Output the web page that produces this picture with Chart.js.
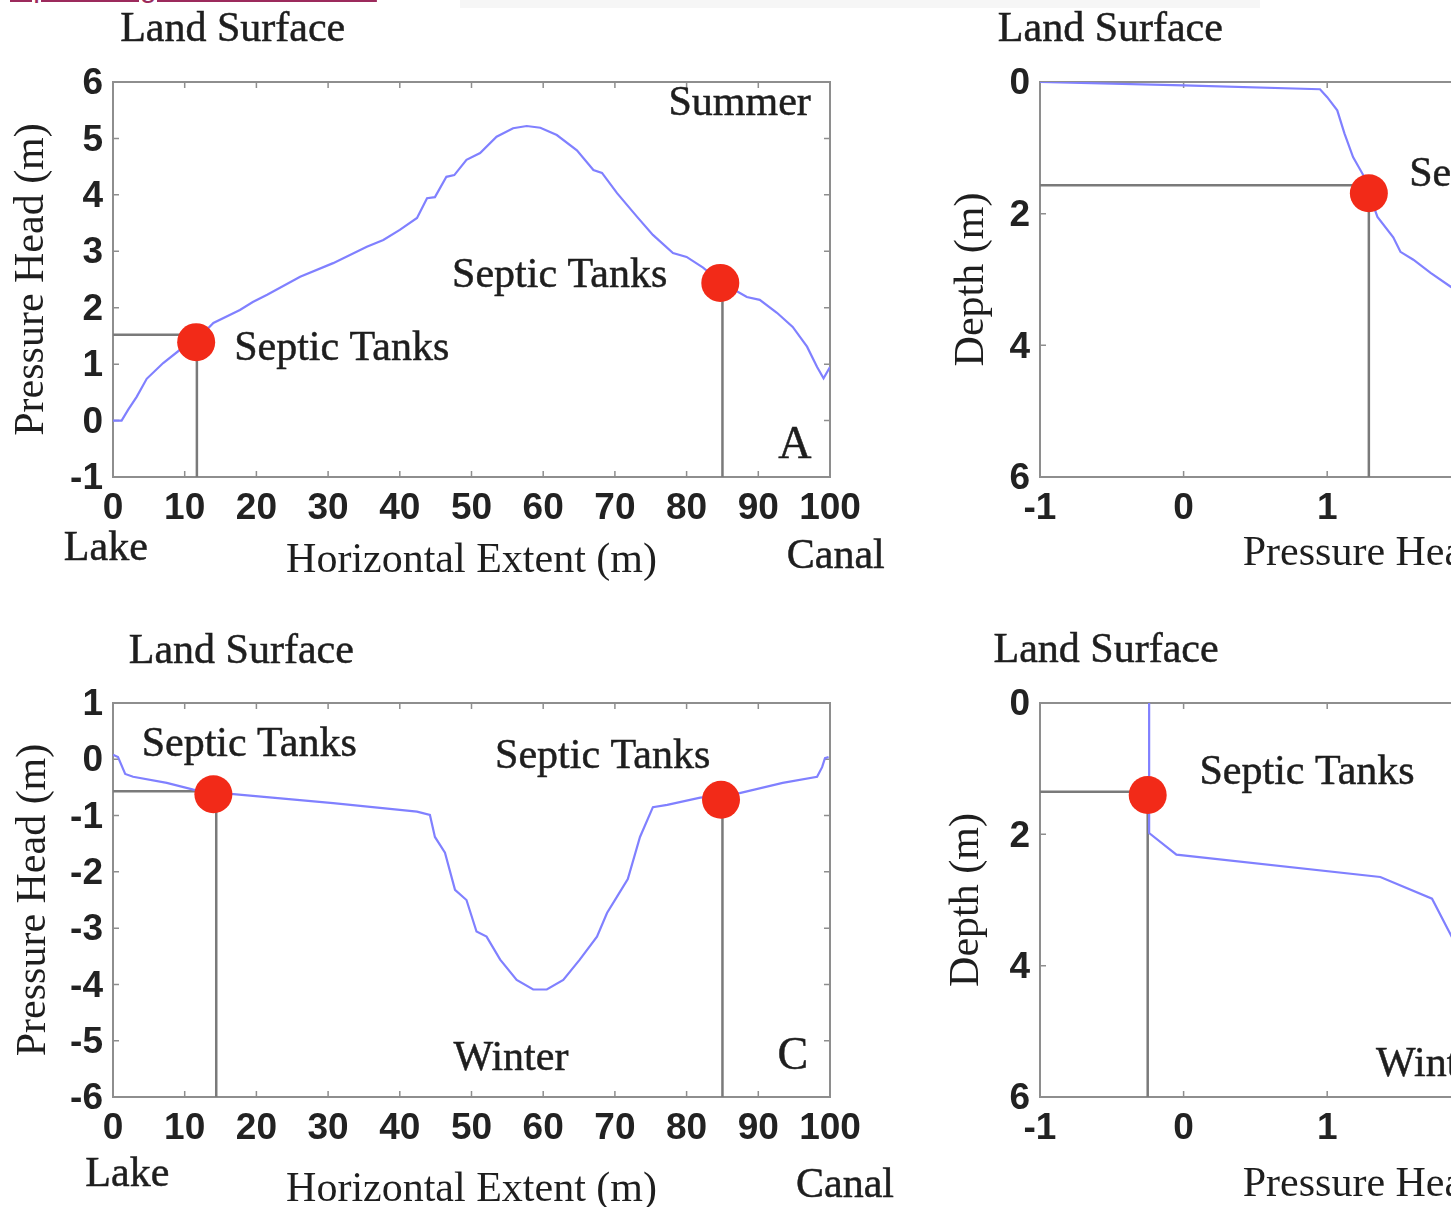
<!DOCTYPE html>
<html>
<head>
<meta charset="utf-8">
<script src="https://cdn.jsdelivr.net/npm/chart.js@4.4.0/dist/chart.umd.min.js"></script>
<style>
html, body { margin: 0; padding: 0; background: #fff; }
#page { position: relative; width: 1451px; height: 1207px; overflow: hidden; background: #fff; }
canvas { position: absolute; }
#link { position: absolute; left: 10px; top: -30px; font: 30px "Liberation Sans", Arial, sans-serif;
        color: #9c2a5c; text-decoration: underline; white-space: nowrap; line-height: 34px; }
#strip { position: absolute; left: 460px; top: 0; width: 800px; height: 8px; background: #f6f6f6; }
</style>
</head>
<body>
<div id="page">
  <div id="strip"></div>
  <div id="link">Open image in new window</div>
  <canvas id="panelA" width="940" height="600" style="left:0;top:0"></canvas>
  <canvas id="panelB" width="930" height="600" style="left:940px;top:0"></canvas>
  <canvas id="panelC" width="940" height="600" style="left:0;top:620px"></canvas>
  <canvas id="panelD" width="930" height="600" style="left:940px;top:620px"></canvas>
</div>
<script>
// --- summer transect (A)
const summerExtent = [0, 1.2, 2.1, 3.3, 4.7, 7, 9.3, 11.6, 14, 17.7, 19.5, 21.5, 26.1, 30.7, 35.4, 37.7, 40, 42.4,
  43.8, 44.9, 46.5, 47.6, 49.3, 51.2, 53.5, 55.8, 57.7, 59.6, 61.9, 64.7, 67, 68.2, 70.3, 73.1, 75.3, 78.1,
  80, 82.3, 84.7, 88.4, 90.2, 92.6, 94.8, 96.8, 98.2, 99.1, 100];
const summerHead = [0, 0, 0.19, 0.42, 0.74, 1.02, 1.25, 1.42, 1.73, 1.96, 2.1, 2.23, 2.55, 2.79, 3.08, 3.2, 3.38, 3.59,
  3.94, 3.96, 4.32, 4.35, 4.62, 4.74, 5.03, 5.18, 5.22, 5.19, 5.06, 4.79, 4.44, 4.39, 4.03, 3.61, 3.29, 2.97,
  2.9, 2.71, 2.46, 2.19, 2.14, 1.91, 1.66, 1.31, 0.95, 0.75, 0.95];

// --- winter transect (C)
const winterExtent = [0, 0.7, 1.7, 2.8, 7.5, 11.2, 14, 16.8, 30.7, 40, 42.4, 44.2, 44.9, 46.3, 47.7, 49.3, 50.7, 52.1,
  54, 56.3, 58.6, 60.5, 62.8, 65.1, 67.5, 68.9, 70.3, 71.8, 73.5, 75.3, 77.3, 81.9, 84.8, 87.4, 93.4, 98.2,
  98.9, 99.3, 99.8];
const winterHead = [0.08, 0.04, -0.26, -0.31, -0.42, -0.54, -0.6, -0.62, -0.78, -0.9, -0.93, -0.99, -1.38, -1.66,
  -2.32, -2.5, -3.06, -3.15, -3.56, -3.92, -4.09, -4.09, -3.92, -3.56, -3.15, -2.73, -2.44, -2.13, -1.38,
  -0.85, -0.81, -0.68, -0.65, -0.6, -0.42, -0.31, -0.14, 0.02, 0.04];

// --- summer profile (B)
const summerProfileHead = [-1, 0, 0.95, 1.0, 1.07, 1.12, 1.18, 1.25, 1.29, 1.35, 1.46, 1.51, 1.6, 1.72, 1.86, 2.0];
const summerProfileDepth = [0, 0.05, 0.11, 0.23, 0.43, 0.78, 1.14, 1.41, 1.69, 2.05, 2.36, 2.58, 2.7, 2.9, 3.11, 3.3];

// --- winter profile (D)
const winterProfileHead = [-0.24, -0.24, -0.05, 1.37, 1.73, 1.86, 1.9];
const winterProfileDepth = [0, 1.98, 2.31, 2.65, 2.98, 3.53, 3.7];

// --- septic tanks
const summerTankExtent = [11.6, 84.7];
const summerTankHead = [1.39, 2.44];
const summerTankLevel = [1.52, null];
const summerTankDrop = [11.7, 85.0];

const winterTankExtent = [14.0, 84.8];
const winterTankHead = [-0.62, -0.72];
const winterTankLevel = [-0.57, null];
const winterTankDrop = [14.4, 85.0];

const summerProfileTankHead = [1.29];
const summerProfileTankDepth = [1.69];
const summerProfileTankLevel = [1.57];

const winterProfileTankHead = [-0.25];
const winterProfileTankDepth = [1.40];
const winterProfileTankLevel = [1.35];

// --- ticks
const extentTicks = [0, 10, 20, 30, 40, 50, 60, 70, 80, 90, 100];
const summerHeadTicks = [-1, 0, 1, 2, 3, 4, 5, 6];
const winterHeadTicks = [-6, -5, -4, -3, -2, -1, 0, 1];
const profileHeadTicks = [-1, 0, 1, 2, 3, 4];
const depthTicks = [0, 2, 4, 6];

const SERIF = '"Liberation Serif", "Times New Roman", serif';
const SANS = '"Liberation Sans", Arial, sans-serif';

// matlab style box with inward ticks + text notes
function boxPlugin(notes) {
  return {
    id: 'box',
    beforeDatasetsDraw(chart) {
      const { ctx, chartArea: a, scales: { x, y } } = chart;
      ctx.save();
      ctx.strokeStyle = '#8e8e8e';
      ctx.lineWidth = 2;
      ctx.strokeRect(a.left, a.top, a.right - a.left, a.bottom - a.top);
      ctx.lineWidth = 1.5;
      ctx.beginPath();
      x.ticks.forEach(t => {
        const px = x.getPixelForValue(t.value);
        ctx.moveTo(px, a.top); ctx.lineTo(px, a.top + 6);
        ctx.moveTo(px, a.bottom); ctx.lineTo(px, a.bottom - 6);
      });
      y.ticks.forEach(t => {
        const py = y.getPixelForValue(t.value);
        ctx.moveTo(a.left, py); ctx.lineTo(a.left + 6, py);
        ctx.moveTo(a.right, py); ctx.lineTo(a.right - 6, py);
      });
      ctx.stroke();
      ctx.restore();
    },
    afterDatasetsDraw(chart) {
      const { ctx, scales: { x, y } } = chart;
      ctx.save();
      ctx.fillStyle = '#1e1e1e';
      ctx.strokeStyle = '#1e1e1e';
      ctx.lineWidth = 0.5;
      ctx.textAlign = 'center';
      ctx.textBaseline = 'middle';
      notes.forEach(n => {
        ctx.font = (n.size || 42) + 'px ' + SERIF;
        const px = x.getPixelForValue(n.x), py = y.getPixelForValue(n.y) + 3;
        ctx.fillText(n.text, px, py);
        ctx.strokeText(n.text, px, py);
      });
      ctx.restore();
    }
  };
}

function guide(points) {
  return { data: points, showLine: true, borderColor: '#7a7a7a', borderWidth: 2.5, pointRadius: 0, order: 2 };
}

function drawPanel(id, p) {
  const datasets = [{
    data: p.tankX.map((x, i) => ({ x: x, y: p.tankY[i] })),
    showLine: false, pointRadius: 19, pointHoverRadius: 19,
    pointBackgroundColor: '#f22a18', pointBorderColor: '#f22a18', pointBorderWidth: 0, order: 0
  }, {
    data: p.curveX.map((x, i) => ({ x: x, y: p.curveY[i] })),
    showLine: true, borderColor: 'rgb(128,128,255)', borderWidth: 2.2, pointRadius: 0, order: 1
  }];
  p.tankX.forEach((x, i) => {
    datasets.push(guide([{ x: p.dropX[i], y: p.tankY[i] }, { x: p.dropX[i], y: p.yEnd }]));
    if (p.level[i] !== null) {
      datasets.push(guide([{ x: p.xMin, y: p.level[i] }, { x: x, y: p.level[i] }]));
    }
  });

  new Chart(document.getElementById(id).getContext('2d'), {
    type: 'scatter',
    data: { datasets: datasets },
    options: {
      responsive: false,
      animation: false,
      events: [],
      layout: { padding: { left: 0, top: p.padTop, right: p.padRight, bottom: 0 } },
      plugins: { legend: { display: false }, tooltip: { enabled: false } },
      scales: {
        x: {
          type: 'linear', min: p.xMin, max: p.xMax,
          afterBuildTicks: s => { s.ticks = p.xTicks.map(v => ({ value: v })); },
          afterFit: s => { s.height = 123; },
          grid: { display: false, drawTicks: false }, border: { display: false },
          ticks: { font: { family: SANS, size: 37, weight: 'bold' }, color: '#222', padding: 10,
                   maxRotation: 0, autoSkip: false },
          title: { display: true, text: p.xTitle, color: '#1e1e1e', font: { family: SERIF, size: 42 },
                   padding: { top: 0, bottom: p.xTitlePad } }
        },
        y: {
          type: 'linear', min: p.yMin, max: p.yMax, reverse: !!p.reverse,
          afterBuildTicks: s => { s.ticks = p.yTicks.map(v => ({ value: v })); },
          afterFit: s => { s.width = p.yAxisW; },
          grid: { display: false, drawTicks: false }, border: { display: false },
          ticks: { font: { family: SANS, size: 37, weight: 'bold' }, color: '#222', padding: 10,
                   labelOffset: 2, autoSkip: false },
          title: { display: true, text: p.yTitle, color: '#1e1e1e', font: { family: SERIF, size: 42 },
                   padding: { top: p.yTitlePad, bottom: 0 } }
        }
      }
    },
    plugins: [boxPlugin(p.notes)]
  });
}

drawPanel('panelA', {
  curveX: summerExtent, curveY: summerHead,
  tankX: summerTankExtent, tankY: summerTankHead, level: summerTankLevel, dropX: summerTankDrop,
  xMin: 0, xMax: 100, yMin: -1, yMax: 6, yEnd: -1, xTicks: extentTicks, yTicks: summerHeadTicks,
  xTitle: 'Horizontal Extent (m)', yTitle: 'Pressure Head (m)',
  padTop: 82, padRight: 110, yAxisW: 113, xTitlePad: 14, yTitlePad: 7,
  notes: [
    { text: 'Land Surface', x: 16.7, y: 6.98 },
    { text: 'Summer', x: 87.4, y: 5.67 },
    { text: 'Septic Tanks', x: 31.9, y: 1.32 },
    { text: 'Septic Tanks', x: 62.3, y: 2.62 },
    { text: 'A', x: 95.1, y: -0.4, size: 46 },
    { text: 'Lake', x: -1.0, y: -2.22 },
    { text: 'Canal', x: 100.8, y: -2.37 }
  ]
});

drawPanel('panelC', {
  curveX: winterExtent, curveY: winterHead,
  tankX: winterTankExtent, tankY: winterTankHead, level: winterTankLevel, dropX: winterTankDrop,
  xMin: 0, xMax: 100, yMin: -6, yMax: 1, yEnd: -6, xTicks: extentTicks, yTicks: winterHeadTicks,
  xTitle: 'Horizontal Extent (m)', yTitle: 'Pressure Head (m)',
  padTop: 83, padRight: 110, yAxisW: 113, xTitlePad: 5, yTitlePad: 9,
  notes: [
    { text: 'Land Surface', x: 17.9, y: 1.96 },
    { text: 'Septic Tanks', x: 19.0, y: 0.31 },
    { text: 'Septic Tanks', x: 68.3, y: 0.09 },
    { text: 'Winter', x: 55.5, y: -5.27 },
    { text: 'C', x: 94.8, y: -5.23, size: 46 },
    { text: 'Lake', x: 2.0, y: -7.33 },
    { text: 'Canal', x: 102.1, y: -7.53 }
  ]
});

drawPanel('panelB', {
  curveX: summerProfileHead, curveY: summerProfileDepth,
  tankX: summerProfileTankHead, tankY: summerProfileTankDepth, level: summerProfileTankLevel,
  dropX: summerProfileTankHead,
  xMin: -1, xMax: 4, yMin: 0, yMax: 6, yEnd: 6, reverse: true, xTicks: profileHeadTicks, yTicks: depthTicks,
  xTitle: 'Pressure Head (m)', yTitle: 'Depth (m)',
  padTop: 82, padRight: 112, yAxisW: 100, xTitlePad: 21, yTitlePad: 7,
  notes: [
    { text: 'Land Surface', x: -0.51, y: -0.84 },
    { text: 'Septic Tanks', x: 2.32, y: 1.37 }
  ]
});

drawPanel('panelD', {
  curveX: winterProfileHead, curveY: winterProfileDepth,
  tankX: winterProfileTankHead, tankY: winterProfileTankDepth, level: winterProfileTankLevel,
  dropX: winterProfileTankHead,
  xMin: -1, xMax: 4, yMin: 0, yMax: 6, yEnd: 6, reverse: true, xTicks: profileHeadTicks, yTicks: depthTicks,
  xTitle: 'Pressure Head (m)', yTitle: 'Depth (m)',
  padTop: 83, padRight: 112, yAxisW: 100, xTitlePad: 10, yTitlePad: 2,
  notes: [
    { text: 'Land Surface', x: -0.54, y: -0.84 },
    { text: 'Septic Tanks', x: 0.86, y: 1.02 },
    { text: 'Winter', x: 1.74, y: 5.46 }
  ]
});
</script>
</body>
</html>
